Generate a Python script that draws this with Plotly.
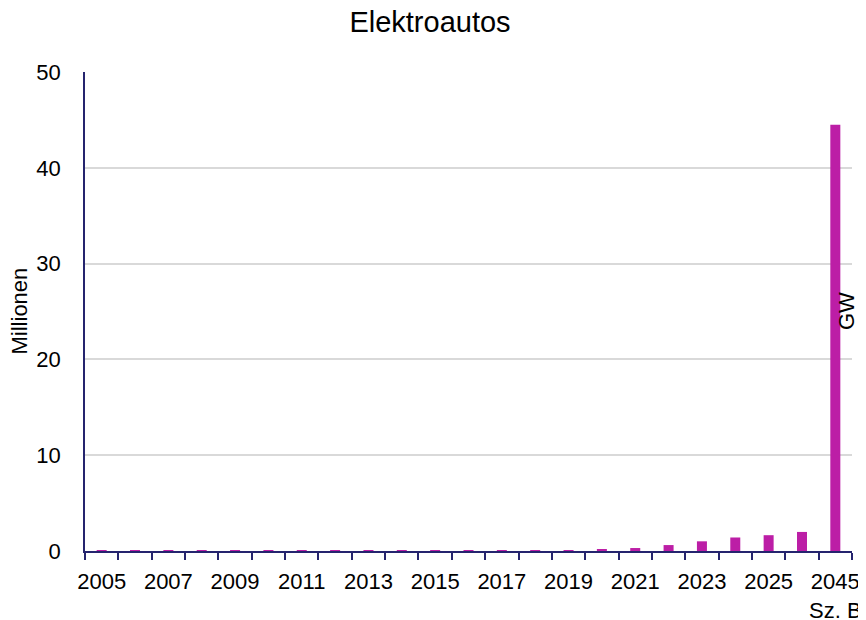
import plotly.graph_objects as go

years = ["2005", "2006", "2007", "2008", "2009", "2010", "2011", "2012", "2013",
         "2014", "2015", "2016", "2017", "2018", "2019", "2020", "2021", "2022",
         "2023", "2024", "2025", "2026", "2045<br>Sz. B"]
elektroautos_mio = [0.002, 0.002, 0.002, 0.002, 0.0015, 0.0016, 0.0023, 0.0045, 0.0071,
                    0.012, 0.019, 0.026, 0.034, 0.054, 0.083, 0.137, 0.31, 0.62,
                    1.01, 1.41, 1.65, 1.99, 44.5]
gw_values = [None] * len(years)
tick_text = [y if i % 2 == 0 else "" for i, y in enumerate(years)]

FONT = "Liberation Sans, Arial, sans-serif"
NAVY = "#25246e"
W, H = 858, 612

fig = go.Figure()
fig.add_trace(go.Bar(x=years, y=elektroautos_mio, marker_color="#BC1EA6",
                     marker_line_width=0, width=0.3, name="Elektroautos"))
fig.add_trace(go.Scatter(x=years, y=gw_values, yaxis="y2", mode="lines",
                         showlegend=False, name="GW"))

fig.update_layout(
    width=W, height=H,
    margin=dict(l=77, r=14, t=64, b=69, autoexpand=False),
    paper_bgcolor="white", plot_bgcolor="white",
    showlegend=False,
    font=dict(family=FONT, size=22, color="#000000"),
    title=dict(text="Elektroautos", x=(430 - 8) / W, xanchor="center", xref="container",
               y=1 - 14 / H, yanchor="middle", yref="container",
               font=dict(size=29, color="#000000", family=FONT)),
    xaxis=dict(type="category", tickmode="array", tickvals=years, ticktext=tick_text,
               tickson="boundaries", ticks="outside", ticklen=7, tickwidth=1.5,
               tickcolor=NAVY, showline=True, linecolor=NAVY, linewidth=1.5,
               showgrid=False, ticklabelstandoff=10, range=[-0.5, 22.5],
               tickangle=0, automargin=False,
               tickfont=dict(size=22, family=FONT, color="#000000")),
    yaxis=dict(range=[0, 50], dtick=10, showline=True, linecolor=NAVY, linewidth=1.5,
               showgrid=True, gridcolor="#d9d9d9", gridwidth=1.5, zeroline=False,
               ticks="", ticklabelstandoff=18, automargin=False,
               tickfont=dict(size=22, family=FONT, color="#000000")),
    yaxis2=dict(range=[0, 140], dtick=20, overlaying="y", side="right",
                showgrid=False, zeroline=False, showline=False, ticks="",
                ticklabelstandoff=5, automargin=False,
                tickfont=dict(size=22, family=FONT, color="#000000")),
    annotations=[
        dict(text="Millionen", x=0, xref="paper", xanchor="center", xshift=-66,
             y=0.5, yref="paper", showarrow=False, textangle=-90,
             font=dict(size=22, family=FONT)),
        dict(text="GW", x=1.0, xref="paper", xanchor="right", xshift=9,
             y=0.5, yref="paper", showarrow=False, textangle=-90,
             font=dict(size=22, family=FONT)),
    ],
)

fig.write_html("out.html")
